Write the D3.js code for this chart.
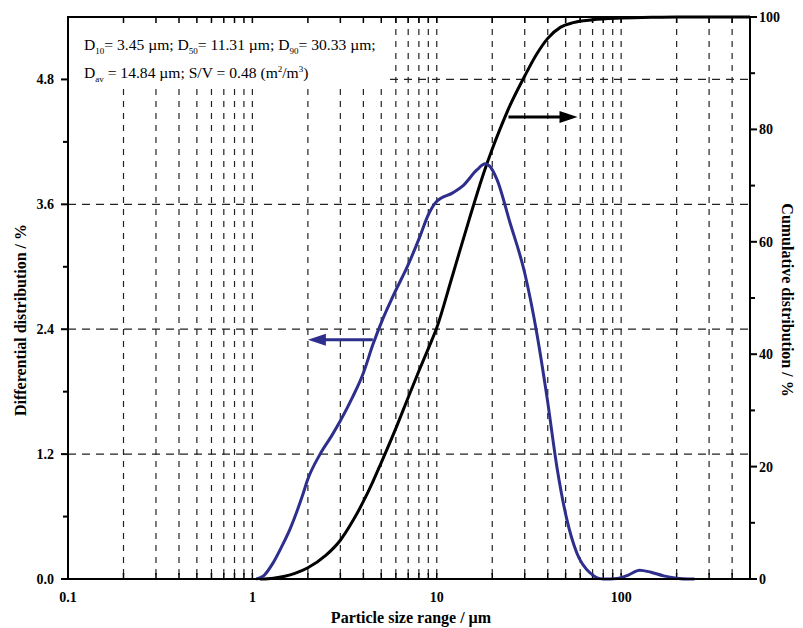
<!DOCTYPE html>
<html>
<head>
<meta charset="utf-8">
<script src="https://cdn.jsdelivr.net/npm/d3@7"></script>
<style>
  body { margin: 0; background: #fff; }
  text { font-family: "Liberation Serif", "DejaVu Serif", serif; }
</style>
</head>
<body>
<div id="chart"></div>
<script>
// Differential distribution (left axis, %) vs particle size (µm)
const diffSize  = [1.05, 1.15, 1.29, 1.45, 1.6, 1.86, 2.0, 2.33, 2.7, 3.0, 3.5, 4.0, 4.5, 5.1, 5.8, 7.0, 8.1, 9.0, 10, 12.2, 13.9, 16.5, 18.3, 19.3, 21.2, 24.9, 30, 34.9, 39.6, 44.9, 50.8, 57.5, 67.7, 80, 95, 110, 126, 145, 170, 200, 230, 250];
const diffValue = [0, 0.03, 0.15, 0.32, 0.48, 0.79, 0.96, 1.2, 1.38, 1.52, 1.75, 1.98, 2.25, 2.5, 2.72, 3.02, 3.29, 3.5, 3.63, 3.71, 3.78, 3.93, 3.99, 3.97, 3.84, 3.43, 2.94, 2.36, 1.75, 1.07, 0.57, 0.25, 0.06, 0.0, 0.005, 0.04, 0.085, 0.065, 0.03, 0.008, 0, 0];

// Cumulative distribution (right axis, %)
const cumSize  = [1.1, 1.3, 1.5, 1.7, 2.0, 2.5, 3.0, 3.5, 4.0, 4.5, 5.0, 6.0, 7.0, 8.0, 9.0, 10, 12, 15, 18, 20, 22, 25, 30, 35, 40, 47, 55, 70, 100, 150, 200, 500];
const cumValue = [0, 0.15, 0.5, 1.0, 2.0, 4.2, 6.9, 10.3, 13.8, 17.3, 20.7, 26.8, 32.3, 37, 41, 44.7, 53.3, 64, 72.3, 76.5, 80, 84.3, 89.5, 93.5, 96.2, 98.2, 99.0, 99.5, 99.8, 99.95, 100, 100];

// Axis ticks
const xLabelTicks = [0.1, 1, 10, 100];
const xGridTicks = [0.2, 0.3, 0.4, 0.5, 0.6, 0.7, 0.8, 0.9, 1, 2, 3, 4, 5, 6, 7, 8, 9, 10, 20, 30, 40, 50, 60, 70, 80, 90, 100, 200, 300, 400];
const yLeftTicks = [0.0, 1.2, 2.4, 3.6, 4.8];
const yLeftMinor = [0.6, 1.8, 3.0, 4.2];
const yRightTicks = [0, 20, 40, 60, 80, 100];
const yRightMinor = [10, 30, 50, 70, 90];

// Arrows: [from size, to size, value]
const blueArrow = [4.5, 2.0, 2.3];
const blackArrow = [24.5, 58, 82.2];

const margin = {top: 17, right: 53, bottom: 49, left: 68};
const W = 803, H = 628;
const width = W - margin.left - margin.right;
const height = H - margin.top - margin.bottom;

const svg = d3.select("#chart").append("svg")
  .attr("width", W).attr("height", H);

const g = svg.append("g")
  .attr("transform", `translate(${margin.left},${margin.top})`);

const x = d3.scaleLog().domain([0.1, 500]).range([0, width]);
const yL = d3.scaleLinear().domain([0, 5.4]).range([height, 0]);
const yR = d3.scaleLinear().domain([0, 100]).range([height, 0]);

// vertical grid
g.append("g").selectAll("line")
  .data(xGridTicks).join("line")
  .attr("x1", d => x(d)).attr("x2", d => x(d))
  .attr("y1", 0).attr("y2", height)
  .attr("stroke", "#222").attr("stroke-width", 1.2)
  .attr("stroke-dasharray", "6,6");

// horizontal grid
g.append("g").selectAll("line")
  .data(yLeftTicks.filter(d => d > 0)).join("line")
  .attr("x1", 0).attr("x2", width)
  .attr("y1", d => yL(d)).attr("y2", d => yL(d))
  .attr("stroke", "#222").attr("stroke-width", 1.2)
  .attr("stroke-dasharray", "8,6");

// annotation box (white) covering grid
g.append("rect")
  .attr("x", 0).attr("y", 0)
  .attr("width", x(5.3)).attr("height", 71)
  .attr("fill", "#fff");

// top inward ticks
g.append("g").selectAll("line")
  .data(xGridTicks).join("line")
  .attr("x1", d => x(d)).attr("x2", d => x(d))
  .attr("y1", 0).attr("y2", 6)
  .attr("stroke", "#000").attr("stroke-width", 1.5);

// bottom inward ticks
g.append("g").selectAll("line")
  .data(xGridTicks).join("line")
  .attr("x1", d => x(d)).attr("x2", d => x(d))
  .attr("y1", height).attr("y2", height - 6)
  .attr("stroke", "#000").attr("stroke-width", 1.5);

const line = (xs, ys, yScale) => d3.line()
  .x(i => x(xs[i]))
  .y(i => yScale(ys[i]))
  .curve(d3.curveMonotoneX)(d3.range(xs.length));

// cumulative curve
g.append("path")
  .attr("d", line(cumSize, cumValue, yR))
  .attr("fill", "none").attr("stroke", "#000").attr("stroke-width", 3);

// differential curve
g.append("path")
  .attr("d", line(diffSize, diffValue, yL))
  .attr("fill", "none").attr("stroke", "#2e2e8c").attr("stroke-width", 3);

// arrows
function arrow(x1, x2, y, color) {
  const dir = Math.sign(x2 - x1);
  g.append("line")
    .attr("x1", x1).attr("x2", x2 - dir * 14)
    .attr("y1", y).attr("y2", y)
    .attr("stroke", color).attr("stroke-width", 3);
  g.append("path")
    .attr("d", `M${x2},${y} L${x2 - dir * 18},${y - 6} L${x2 - dir * 18},${y + 6} Z`)
    .attr("fill", color);
}
arrow(x(blueArrow[0]), x(blueArrow[1]), yL(blueArrow[2]), "#2e2e8c");
arrow(x(blackArrow[0]), x(blackArrow[1]), yR(blackArrow[2]), "#000");

// frame
g.append("rect")
  .attr("width", width).attr("height", height)
  .attr("fill", "none").attr("stroke", "#000").attr("stroke-width", 2);

// left axis
const leftAxis = g.append("g");
leftAxis.selectAll("line.maj").data(yLeftTicks).join("line")
  .attr("x1", 0).attr("x2", -7)
  .attr("y1", d => yL(d)).attr("y2", d => yL(d))
  .attr("stroke", "#000").attr("stroke-width", 2);
leftAxis.selectAll("line.min").data(yLeftMinor).join("line")
  .attr("x1", 0).attr("x2", -5)
  .attr("y1", d => yL(d)).attr("y2", d => yL(d))
  .attr("stroke", "#000").attr("stroke-width", 2);
leftAxis.selectAll("text").data(yLeftTicks).join("text")
  .attr("x", -14).attr("y", d => yL(d)).attr("dy", "0.35em")
  .attr("text-anchor", "end")
  .style("font-size", "14px").style("font-weight", "bold")
  .text(d => d3.format(".1f")(d));

// right axis
const rightAxis = g.append("g").attr("transform", `translate(${width},0)`);
rightAxis.selectAll("line.maj").data(yRightTicks).join("line")
  .attr("x1", 0).attr("x2", 7)
  .attr("y1", d => yR(d)).attr("y2", d => yR(d))
  .attr("stroke", "#000").attr("stroke-width", 2);
rightAxis.selectAll("line.min").data(yRightMinor).join("line")
  .attr("x1", 0).attr("x2", 5)
  .attr("y1", d => yR(d)).attr("y2", d => yR(d))
  .attr("stroke", "#000").attr("stroke-width", 2);
rightAxis.selectAll("text").data(yRightTicks).join("text")
  .attr("x", 9).attr("y", d => yR(d)).attr("dy", "0.35em")
  .attr("text-anchor", "start")
  .style("font-size", "14px").style("font-weight", "bold")
  .text(d => d);

// bottom labels
g.append("g").selectAll("text").data(xLabelTicks).join("text")
  .attr("x", d => x(d)).attr("y", height + 23)
  .attr("text-anchor", "middle")
  .style("font-size", "14px").style("font-weight", "bold")
  .text(d => d);

// axis titles
g.append("text")
  .attr("x", width / 2 + 2).attr("y", height + 44)
  .attr("text-anchor", "middle")
  .style("font-size", "16px").style("font-weight", "bold")
  .text("Particle size range / µm");

g.append("text")
  .attr("transform", `translate(${-margin.left + 26},${height / 2 + 22}) rotate(-90)`)
  .attr("text-anchor", "middle")
  .style("font-size", "16px").style("font-weight", "bold")
  .text("Differential distribution / %");

g.append("text")
  .attr("transform", `translate(${width + 32},${height / 2 + 2}) rotate(90)`)
  .attr("text-anchor", "middle")
  .style("font-size", "16px").style("font-weight", "bold")
  .text("Cumulative distribution / %");

// annotation
const ann = g.append("g").style("font-size", "15.6px");
const t1 = ann.append("text").attr("x", 16).attr("y", 33);
[["D", ""], ["10", "sub"], ["= 3.45 µm; D", ""], ["50", "sub"], ["= 11.31 µm; D", ""], ["90", "sub"], ["= 30.33 µm;", ""]]
  .forEach(([s, k]) => {
    const ts = t1.append("tspan").text(s);
    if (k === "sub") ts.attr("dy", 4).style("font-size", "9px");
    else if (t1.selectAll("tspan").size() > 1) ts.attr("dy", -4);
  });
const t2 = ann.append("text").attr("x", 16).attr("y", 61);
t2.append("tspan").text("D");
t2.append("tspan").attr("dy", 4).style("font-size", "9px").text("av");
t2.append("tspan").attr("dy", -4).text(" = 14.84 µm; S/V = 0.48 (m");
t2.append("tspan").attr("dy", -6).style("font-size", "9px").text("2");
t2.append("tspan").attr("dy", 6).text("/m");
t2.append("tspan").attr("dy", -6).style("font-size", "9px").text("3");
t2.append("tspan").attr("dy", 6).text(")");
</script>
</body>
</html>
